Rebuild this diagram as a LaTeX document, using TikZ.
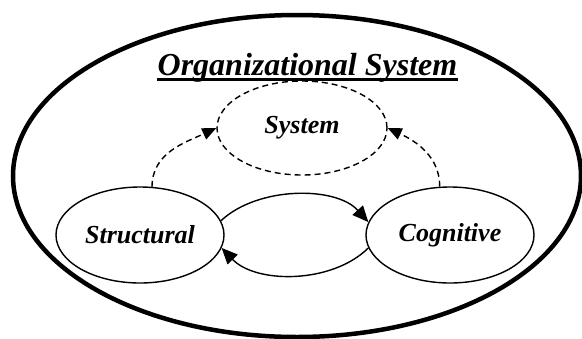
\documentclass[tikz,border=0pt]{standalone}
\usepackage{fontspec}
\setmainfont{Liberation Serif}
\usetikzlibrary{shapes.geometric,arrows.meta}
\tikzset{
  lbl/.style={font=\fontsize{26}{30}\selectfont\bfseries\itshape},
  oval/.style={ellipse, draw, line width=1.4pt, inner sep=0pt, minimum width=168pt, minimum height=96pt, lbl},
  sysoval/.style={ellipse, draw, line width=1.4pt, dash pattern=on 6pt off 4pt, inner sep=0pt, minimum width=170pt, minimum height=94pt, lbl},
  flow/.style={line width=1.4pt, -{Triangle[length=16pt,width=14pt]}},
  dflow/.style={line width=1.4pt, dash pattern=on 6pt off 4pt, -{Triangle[length=14pt,width=12pt]}},
}
\begin{document}
\begin{tikzpicture}[x=1pt,y=-1pt]
\useasboundingbox (0,0) rectangle (582,338);
\draw[line width=4.5pt] (297,176) ellipse [x radius=284, y radius=161];
\node[inner sep=0pt, anchor=base, font=\fontsize{32}{36}\selectfont\bfseries\itshape] (title) at (307.5,75) {Organizational System};
\draw[line width=3pt] ([yshift=-4pt]title.base west) -- ([yshift=-4pt]title.base east);
\node[sysoval] (sys) at (302,128) {System};
\node[oval] (st) at (140,235) {Structural};
\node[oval] (cg) at (450,235) {Cognitive};
\draw[flow] (st.10) .. controls (258,186) and (336,186) .. (cg.171);
\draw[flow] (cg.189) .. controls (332,284) and (256,284) .. (st.-9);
\draw[dflow] (st.76) to[out=90,in=205] (sys.west);
\draw[dflow] (cg.102) to[out=90,in=-25] (sys.east);
\end{tikzpicture}
\end{document}
